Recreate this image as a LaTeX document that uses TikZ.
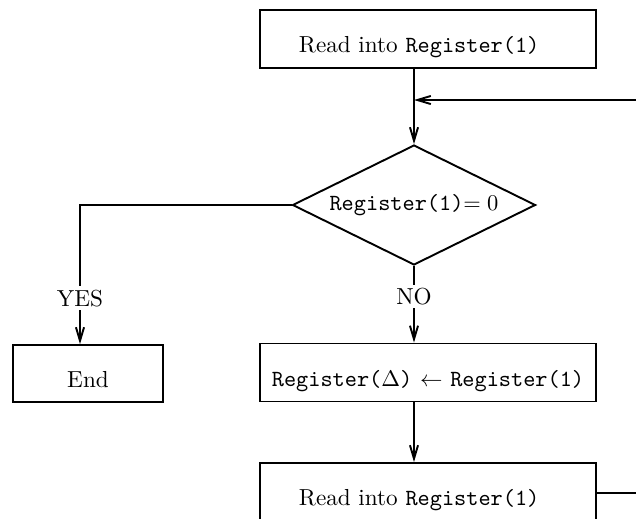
\documentclass[tikz,border=0pt]{standalone}
\usetikzlibrary{shapes.geometric,arrows.meta}
\begin{document}
\begin{tikzpicture}[x=0.4444pt,y=-0.4444pt,
  line width=0.85pt,
  every node/.style={font=\fontsize{10.3pt}{12pt}\selectfont},
  arr/.style={-{Straight Barb[length=6pt,width=3.6pt,line width=0.85pt]}},
  lowtext/.style={text height=12.4pt,text depth=0pt},
  procbox/.style={draw,rectangle,lowtext,minimum width=149.3pt,minimum height=25.8pt,inner sep=0pt},
  readbox/.style={draw,rectangle,lowtext,minimum height=25.8pt,align=left,text width=114.7pt,inner xsep=17.3pt,inner ysep=0pt},
  endbox/.style={draw,rectangle,lowtext,minimum width=66.7pt,minimum height=25.3pt,inner sep=0pt},
  decision/.style={draw,diamond,aspect=2,minimum width=108pt,minimum height=53.3pt,inner sep=0pt},
  lbl/.style={fill=white,inner sep=1.5pt}]
\useasboundingbox (0,0) rectangle (636,518);
\begin{scope}
\clip (0,0) rectangle (636,518);
\node[readbox] (r1) at (428,39) {Read into \texttt{Register(1)}};
\node[decision] (d) at (414,205) {\texttt{Register(1)}$=0$};
\node[endbox] (e) at (88,373.5) {End};
\node[procbox] (p) at (428,372.5) {\texttt{Register($\Delta$)} $\leftarrow$ \texttt{Register(1)}};
\node[readbox] (r3) at (428,492) {Read into \texttt{Register(1)}};
\coordinate (j) at (414,100);
\coordinate (rin) at (645,100);
\coordinate (rout) at (645,493);
\coordinate (yc) at (80,205);
\draw[arr] (r1.south -| j) -- (d.north);
\draw[arr] (rin) -- (j);
\draw[arr] (d.west) -- (yc) -- node[lbl,pos=0.67] {YES} (yc |- e.north);
\draw[arr] (d.south) -- node[lbl,pos=0.4] {NO} (p.north -| d.south);
\draw[arr] (p.south -| j) -- (r3.north -| j);
\draw (r3.east |- rout) -- (rout);
\end{scope}
\end{tikzpicture}
\end{document}
